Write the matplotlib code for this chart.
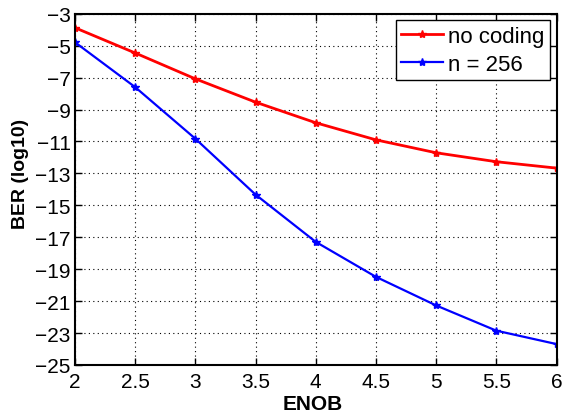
import matplotlib
matplotlib.use("Agg")
import matplotlib.pyplot as plt
import numpy as np

enob = [2, 2.5, 3, 3.5, 4, 4.5, 5, 5.5, 6]
no_coding = [-3.88, -5.46, -7.08, -8.54, -9.83, -10.9, -11.71, -12.27, -12.67]
n256 = [-4.79, -7.6, -10.83, -14.33, -17.29, -19.48, -21.27, -22.85, -23.69]
xticks = [2, 2.5, 3, 3.5, 4, 4.5, 5, 5.5, 6]
xticklabels = ["2", "2.5", "3", "3.5", "4", "4.5", "5", "5.5", "6"]
yticks = list(range(-25, -2, 2))

plt.rcParams['font.family'] = ['Liberation Sans', 'DejaVu Sans']

fig = plt.figure(figsize=(5.64, 4.14), dpi=100)
ax = fig.add_axes([75/564, 1-366/414, (556.5-75)/564, (366-14.7)/414])

ax.plot(enob, no_coding, color='#ff0000', lw=2, marker='*', ms=6, label='no coding')
ax.plot(enob, n256, color='#0000ff', lw=1.6, marker='*', ms=6, label='n = 256')

ax.set_xlim(2, 6)
ax.set_ylim(-25, -3)
ax.set_xticks(xticks)
ax.set_xticklabels(xticklabels)
ax.set_yticks(yticks)
ax.tick_params(direction='in', top=True, right=True, labelsize=15, length=5, width=1)
ax.tick_params(axis='x', pad=5)
ax.tick_params(axis='y', pad=3)
ax.grid(True, linestyle=(0, (1, 3)), color='black', lw=0.8)
for s in ax.spines.values():
    s.set_linewidth(1.5)

ax.set_xlabel('ENOB', fontsize=15, fontweight='bold')
ax.xaxis.set_label_coords(0.493, -0.111, transform=ax.transAxes)
ax.xaxis.label.set_va('center')
ax.set_ylabel('BER (log10)', fontsize=14, fontweight='bold')
ax.yaxis.set_label_coords(-0.113, 0.547, transform=ax.transAxes)
ax.yaxis.label.set_va('center')

leg = ax.legend(loc='upper right', fontsize=16, frameon=True, fancybox=False,
                edgecolor='black', framealpha=1, borderaxespad=0.3,
                handlelength=1.9, handletextpad=0.2, borderpad=0.25, labelspacing=0.3)
leg.get_frame().set_linewidth(1)

fig.savefig('out.png', dpi=100)
